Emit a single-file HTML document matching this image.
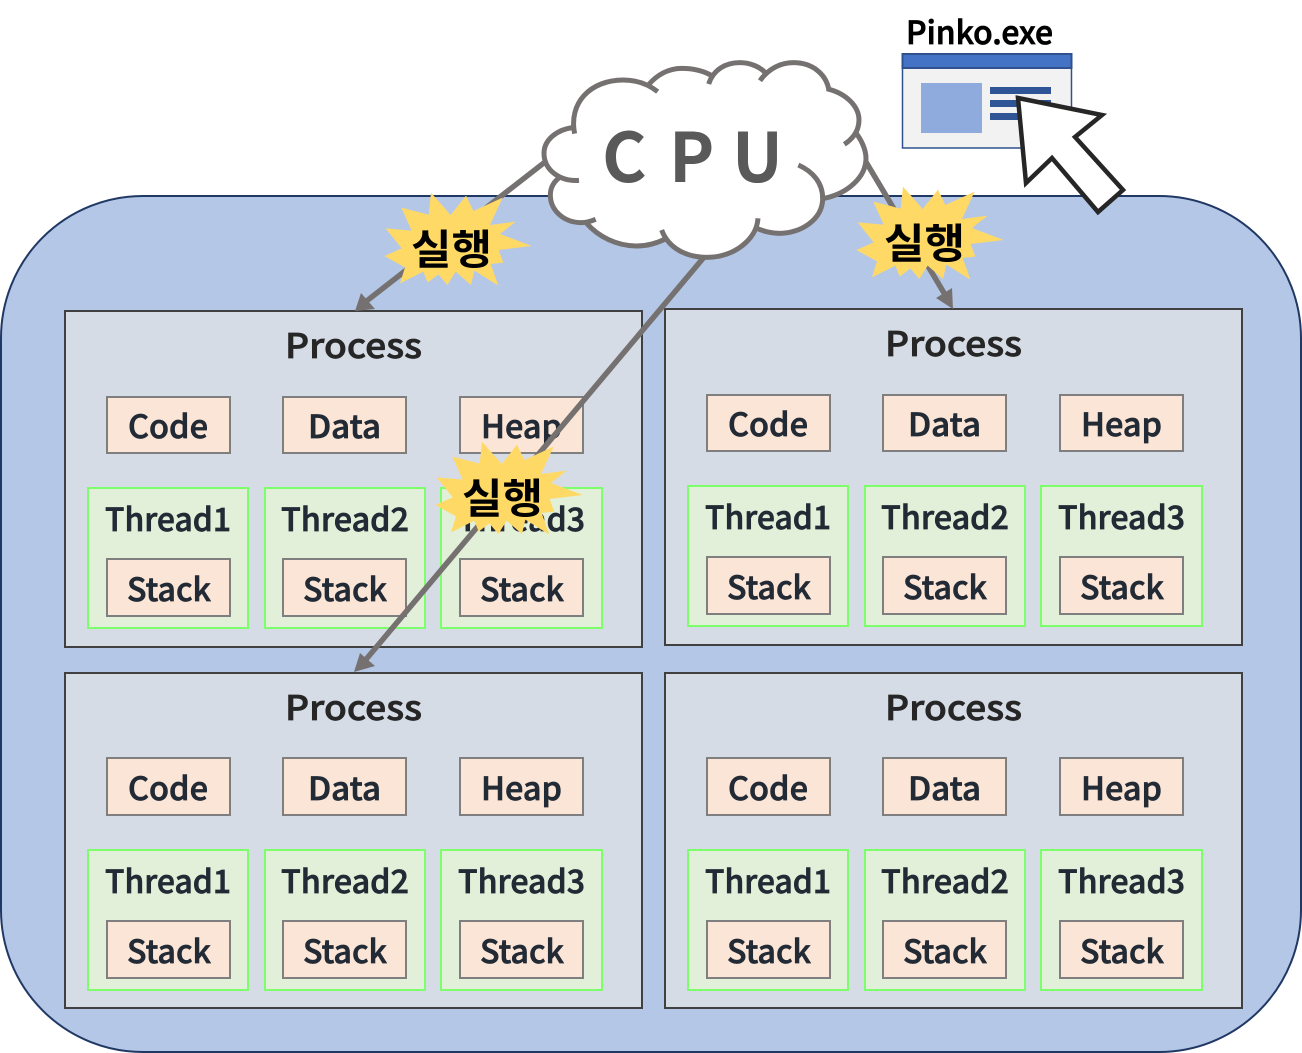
<!DOCTYPE html>
<html><head><meta charset="utf-8"><style>
html,body{margin:0;padding:0;background:#fff}
svg{display:block}
text{font-family:"Noto Sans CJK KR","Liberation Sans",sans-serif;font-weight:500}
.t{font-size:34px;fill:#262626;stroke:#262626;stroke-width:.7px}
.l{font-size:32px;fill:#222a35;stroke:#222a35;stroke-width:.7px}
.b{fill:#fbe5d6;stroke:#7f7f7f;stroke-width:2}
.g{fill:#e2f0d9;stroke:#7cff6b;stroke-width:2}
.s{fill:#ffd966}
.k{font-size:41px;font-weight:700;fill:#000}
</style></head><body>
<svg width="1302" height="1053" viewBox="0 0 1302 1053" xmlns="http://www.w3.org/2000/svg">
<rect x="1" y="196" width="1300" height="856" rx="142" fill="#b4c7e7" stroke="#203864" stroke-width="2"/>

<g id="p1">
<rect x="65" y="311" width="577" height="336" fill="#d6dce5" stroke="#404040" stroke-width="2"/>
<text class="t" x="285" y="358" textLength="137" lengthAdjust="spacingAndGlyphs">Process</text>
<rect class="b" x="107" y="397" width="123" height="56"/><text class="l" x="128" y="438" textLength="80" lengthAdjust="spacingAndGlyphs">Code</text>
<rect class="b" x="283" y="397" width="123" height="56"/><text class="l" x="308" y="438" textLength="73" lengthAdjust="spacingAndGlyphs">Data</text>
<rect class="b" x="460" y="397" width="123" height="56"/><text class="l" x="481" y="438" textLength="81" lengthAdjust="spacingAndGlyphs">Heap</text>
<rect class="g" x="88" y="488" width="160" height="140"/><text class="l" x="105" y="531" textLength="126" lengthAdjust="spacingAndGlyphs">Thread1</text>
<rect class="b" x="107" y="559" width="123" height="57"/><text class="l" x="127" y="601" textLength="84" lengthAdjust="spacingAndGlyphs">Stack</text>
<rect class="g" x="265" y="488" width="160" height="140"/><text class="l" x="281" y="531" textLength="128" lengthAdjust="spacingAndGlyphs">Thread2</text>
<rect class="b" x="283" y="559" width="123" height="57"/><text class="l" x="303" y="601" textLength="84" lengthAdjust="spacingAndGlyphs">Stack</text>
<rect class="g" x="441" y="488" width="161" height="140"/><text class="l" x="458" y="531" textLength="127" lengthAdjust="spacingAndGlyphs">Thread3</text>
<rect class="b" x="460" y="559" width="123" height="57"/><text class="l" x="480" y="601" textLength="84" lengthAdjust="spacingAndGlyphs">Stack</text>
</g>

<g id="p2" transform="translate(600,-2)">
<rect x="65" y="311" width="577" height="336" fill="#d6dce5" stroke="#404040" stroke-width="2"/>
<text class="t" x="285" y="358" textLength="137" lengthAdjust="spacingAndGlyphs">Process</text>
<rect class="b" x="107" y="397" width="123" height="56"/><text class="l" x="128" y="438" textLength="80" lengthAdjust="spacingAndGlyphs">Code</text>
<rect class="b" x="283" y="397" width="123" height="56"/><text class="l" x="308" y="438" textLength="73" lengthAdjust="spacingAndGlyphs">Data</text>
<rect class="b" x="460" y="397" width="123" height="56"/><text class="l" x="481" y="438" textLength="81" lengthAdjust="spacingAndGlyphs">Heap</text>
<rect class="g" x="88" y="488" width="160" height="140"/><text class="l" x="105" y="531" textLength="126" lengthAdjust="spacingAndGlyphs">Thread1</text>
<rect class="b" x="107" y="559" width="123" height="57"/><text class="l" x="127" y="601" textLength="84" lengthAdjust="spacingAndGlyphs">Stack</text>
<rect class="g" x="265" y="488" width="160" height="140"/><text class="l" x="281" y="531" textLength="128" lengthAdjust="spacingAndGlyphs">Thread2</text>
<rect class="b" x="283" y="559" width="123" height="57"/><text class="l" x="303" y="601" textLength="84" lengthAdjust="spacingAndGlyphs">Stack</text>
<rect class="g" x="441" y="488" width="161" height="140"/><text class="l" x="458" y="531" textLength="127" lengthAdjust="spacingAndGlyphs">Thread3</text>
<rect class="b" x="460" y="559" width="123" height="57"/><text class="l" x="480" y="601" textLength="84" lengthAdjust="spacingAndGlyphs">Stack</text>
</g>

<g id="p3" transform="translate(0,362)">
<rect x="65" y="311" width="577" height="335" fill="#d6dce5" stroke="#404040" stroke-width="2"/>
<text class="t" x="285" y="358" textLength="137" lengthAdjust="spacingAndGlyphs">Process</text>
<rect class="b" x="107" y="396" width="123" height="57"/><text class="l" x="128" y="438" textLength="80" lengthAdjust="spacingAndGlyphs">Code</text>
<rect class="b" x="283" y="396" width="123" height="57"/><text class="l" x="308" y="438" textLength="73" lengthAdjust="spacingAndGlyphs">Data</text>
<rect class="b" x="460" y="396" width="123" height="57"/><text class="l" x="481" y="438" textLength="81" lengthAdjust="spacingAndGlyphs">Heap</text>
<rect class="g" x="88" y="488" width="160" height="140"/><text class="l" x="105" y="531" textLength="126" lengthAdjust="spacingAndGlyphs">Thread1</text>
<rect class="b" x="107" y="559" width="123" height="57"/><text class="l" x="127" y="601" textLength="84" lengthAdjust="spacingAndGlyphs">Stack</text>
<rect class="g" x="265" y="488" width="160" height="140"/><text class="l" x="281" y="531" textLength="128" lengthAdjust="spacingAndGlyphs">Thread2</text>
<rect class="b" x="283" y="559" width="123" height="57"/><text class="l" x="303" y="601" textLength="84" lengthAdjust="spacingAndGlyphs">Stack</text>
<rect class="g" x="441" y="488" width="161" height="140"/><text class="l" x="458" y="531" textLength="127" lengthAdjust="spacingAndGlyphs">Thread3</text>
<rect class="b" x="460" y="559" width="123" height="57"/><text class="l" x="480" y="601" textLength="84" lengthAdjust="spacingAndGlyphs">Stack</text>
</g>

<g id="p4" transform="translate(600,362)">
<rect x="65" y="311" width="577" height="335" fill="#d6dce5" stroke="#404040" stroke-width="2"/>
<text class="t" x="285" y="358" textLength="137" lengthAdjust="spacingAndGlyphs">Process</text>
<rect class="b" x="107" y="396" width="123" height="57"/><text class="l" x="128" y="438" textLength="80" lengthAdjust="spacingAndGlyphs">Code</text>
<rect class="b" x="283" y="396" width="123" height="57"/><text class="l" x="308" y="438" textLength="73" lengthAdjust="spacingAndGlyphs">Data</text>
<rect class="b" x="460" y="396" width="123" height="57"/><text class="l" x="481" y="438" textLength="81" lengthAdjust="spacingAndGlyphs">Heap</text>
<rect class="g" x="88" y="488" width="160" height="140"/><text class="l" x="105" y="531" textLength="126" lengthAdjust="spacingAndGlyphs">Thread1</text>
<rect class="b" x="107" y="559" width="123" height="57"/><text class="l" x="127" y="601" textLength="84" lengthAdjust="spacingAndGlyphs">Stack</text>
<rect class="g" x="265" y="488" width="160" height="140"/><text class="l" x="281" y="531" textLength="128" lengthAdjust="spacingAndGlyphs">Thread2</text>
<rect class="b" x="283" y="559" width="123" height="57"/><text class="l" x="303" y="601" textLength="84" lengthAdjust="spacingAndGlyphs">Stack</text>
<rect class="g" x="441" y="488" width="161" height="140"/><text class="l" x="458" y="531" textLength="127" lengthAdjust="spacingAndGlyphs">Thread3</text>
<rect class="b" x="460" y="559" width="123" height="57"/><text class="l" x="480" y="601" textLength="84" lengthAdjust="spacingAndGlyphs">Stack</text>
</g>

<!-- connectors -->
<g stroke="#767171" stroke-width="5.5" fill="#767171">
<line x1="545" y1="162" x2="364" y2="303"/>
<line x1="705" y1="256" x2="363" y2="663"/>
<line x1="866" y1="162" x2="947" y2="298"/>
</g>
<g fill="#767171">
<polygon points="355,311 361,293 375,309"/>
<polygon points="354,672 360,653 375,666"/>
<polygon points="953,309 936,298 952,288"/>
</g>

<!-- cloud -->
<g transform="translate(360,40) scale(0.33333)">
<g fill="#fff">
<polygon points="644,270 800,200 1050,120 1210,110 1405,150 1460,300 1500,370 1393,475 1190,565 1040,640 920,600 830,612 680,550 602,410 560,340"/>
<path d="M644,281 C625,190 690,120 790,120 C830,120 865,133 893,155"/>
<path d="M865,135 C890,105 925,85 965,85 C1000,85 1030,93 1052,105"/>
<path d="M1046,132 C1060,90 1095,68 1140,68 C1170,68 1200,80 1218,100"/>
<path d="M1200,122 C1230,80 1270,68 1300,68 C1360,68 1400,105 1407,152"/>
<path d="M1400,146 C1460,160 1497,200 1497,240 C1497,270 1480,295 1453,313"/>
<path d="M1485,275 C1505,300 1518,330 1518,355 C1518,410 1465,460 1393,475"/>
<path d="M1315,375 C1360,395 1388,430 1388,475 C1388,540 1320,580 1260,580 C1230,580 1210,573 1190,565"/>
<path d="M1194,535 C1190,600 1120,652 1040,652 C980,652 925,625 905,570"/>
<path d="M920,595 C890,610 860,618 830,618 C770,618 715,590 680,550"/>
<path d="M707,538 C690,545 680,548 665,548 C610,548 571,510 571,465 C571,445 580,425 602,410"/>
<path d="M657,421 C600,425 552,390 552,340 C552,300 590,268 642,262"/>
</g>
<g fill="none" stroke="#767171" stroke-width="15">
<path d="M644,281 C625,190 690,120 790,120 C830,120 865,133 893,155"/>
<path d="M865,135 C890,105 925,85 965,85 C1000,85 1030,93 1052,105"/>
<path d="M1046,132 C1060,90 1095,68 1140,68 C1170,68 1200,80 1218,100"/>
<path d="M1200,122 C1230,80 1270,68 1300,68 C1360,68 1400,105 1407,152"/>
<path d="M1400,146 C1460,160 1497,200 1497,240 C1497,270 1480,295 1453,313"/>
<path d="M1485,275 C1505,300 1518,330 1518,355 C1518,410 1465,460 1393,475"/>
<path d="M1315,375 C1360,395 1388,430 1388,475 C1388,540 1320,580 1260,580 C1230,580 1210,573 1190,565"/>
<path d="M1194,535 C1190,600 1120,652 1040,652 C980,652 925,625 905,570"/>
<path d="M920,595 C890,610 860,618 830,618 C770,618 715,590 680,550"/>
<path d="M707,538 C690,545 680,548 665,548 C610,548 571,510 571,465 C571,445 580,425 602,410"/>
<path d="M657,421 C600,425 552,390 552,340 C552,300 590,268 642,262"/>
</g>
</g>
<text x="602" y="182" style="font-size:68px;font-weight:700;fill:#595959">C</text>
<text x="669" y="182" style="font-size:68px;font-weight:700;fill:#595959">P</text>
<text x="732" y="182" style="font-size:68px;font-weight:700;fill:#595959">U</text>

<!-- window -->
<rect x="902.5" y="54" width="169" height="94" fill="#f2f2f2" stroke="#2f528f" stroke-width="1.5"/>
<rect x="902.5" y="54" width="169" height="14" fill="#4472c4" stroke="#2f528f" stroke-width="2"/>
<rect x="921" y="83" width="61" height="50" fill="#8faadc"/>
<rect x="990" y="87" width="61" height="7" fill="#2f5597"/>
<rect x="990" y="100" width="61" height="7" fill="#2f5597"/>
<rect x="990" y="113" width="61" height="7" fill="#2f5597"/>
<text x="906" y="44" textLength="147" lengthAdjust="spacingAndGlyphs" style="font-size:32px;fill:#000;stroke:#000;stroke-width:.8px">Pinko.exe</text>
<polygon points="1018,98 1102,115 1075,137 1123,190 1098,212 1052,158 1026,183" fill="#fff" stroke="#262626" stroke-width="4.5"/>

<!-- starbursts -->
<g transform="translate(360,40) scale(0.33333)">
<polygon class="s" points="213,458 272,525 318,467 340,513 428,473 390,555 467,545 420,582 515,618 416,630 430,668 392,672 415,737 343,692 333,735 287,695 262,735 235,703 203,728 190,695 120,730 135,682 73,648 125,625 77,565 155,572 124,503 206,524"/>
</g>
<text class="k" x="411" y="264" textLength="81" lengthAdjust="spacingAndGlyphs">실행</text>
<g transform="translate(832,34) scale(0.33333)">
<polygon class="s" points="213,458 272,525 318,467 340,513 428,473 390,555 467,545 420,582 515,618 416,630 430,668 392,672 415,737 343,692 333,735 287,695 262,735 235,703 203,728 190,695 120,730 135,682 73,648 125,625 77,565 155,572 124,503 206,524"/>
</g>
<text class="k" x="884" y="258" textLength="81" lengthAdjust="spacingAndGlyphs">실행</text>
<g transform="translate(411,289) scale(0.33333)">
<polygon class="s" points="213,458 272,525 318,467 340,513 428,473 390,555 467,545 420,582 515,618 416,630 430,668 392,672 415,737 343,692 333,735 287,695 262,735 235,703 203,728 190,695 120,730 135,682 73,648 125,625 77,565 155,572 124,503 206,524"/>
</g>
<text class="k" x="462" y="513" textLength="81" lengthAdjust="spacingAndGlyphs">실행</text>
</svg>
</body></html>
